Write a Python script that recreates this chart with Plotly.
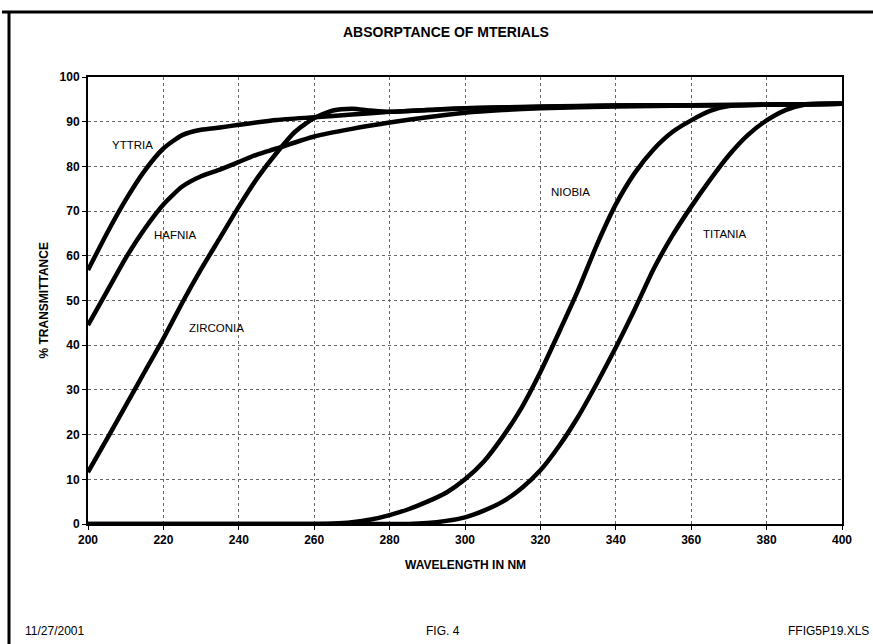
import plotly.graph_objects as go

# ---- data ----
yttria_x = [200, 205, 210, 215, 220, 225, 230, 235, 240, 250, 260, 270, 280, 290, 300, 320, 340, 360, 380, 400]
yttria_y = [56.8, 65, 72.5, 79, 84, 87.0, 88.2, 88.7, 89.3, 90.4, 91, 91.6, 92.2, 92.6, 93, 93.3, 93.6, 93.7, 93.8, 94]

hafnia_x = [200, 205, 210, 215, 220, 225, 230, 235, 240, 245, 250, 260, 270, 280, 290, 300, 310, 320, 340, 360, 380, 400]
hafnia_y = [44.5, 52, 59.5, 66, 71.5, 75.5, 77.8, 79.3, 81, 82.7, 84, 86.7, 88.4, 89.8, 91, 92, 92.6, 93, 93.4, 93.6, 93.8, 94]

zirconia_x = [200, 205, 210, 215, 220, 225, 230, 235, 240, 245, 250, 255, 260, 265, 270, 275, 280, 290, 300, 320, 340, 360, 380, 400]
zirconia_y = [11.6, 19, 26.5, 34, 41.5, 49.5, 57, 64, 71, 77.5, 83, 87.8, 90.8, 92.5, 92.9, 92.5, 92.2, 92.6, 93, 93.4, 93.6, 93.7, 93.8, 94]

niobia_x = [200, 260, 265, 270, 275, 280, 285, 290, 295, 300, 305, 310, 315, 320, 325, 330, 335, 340, 345, 350, 355, 360, 365, 370, 380, 400]
niobia_y = [0, 0, 0.1, 0.4, 1, 2, 3.3, 5, 7, 10, 14, 19.5, 26, 34, 43, 52.3, 62.5, 71.5, 78.5, 83.8, 87.7, 90.3, 92.4, 93.5, 93.8, 94]

titania_x = [200, 285, 290, 295, 300, 305, 310, 315, 320, 325, 330, 335, 340, 345, 350, 355, 360, 365, 370, 375, 380, 385, 390, 400]
titania_y = [0, 0, 0.2, 0.7, 1.5, 3, 5, 8, 12, 17.5, 24, 31.5, 39.5, 48, 57, 64.5, 71, 77, 82.5, 87, 90.3, 92.6, 93.8, 94]

label_names = ["YTTRIA", "HAFNIA", "ZIRCONIA", "NIOBIA", "TITANIA"]
label_x = [211.7, 223.1, 234.2, 328.1, 369.0]
label_y = [84.8, 64.7, 43.8, 74.3, 64.9]

x_ticks = [200, 220, 240, 260, 280, 300, 320, 340, 360, 380, 400]
y_ticks = [0, 10, 20, 30, 40, 50, 60, 70, 80, 90, 100]

title_text = "ABSORPTANCE OF MTERIALS"
x_title = "WAVELENGTH IN NM"
y_title = "% TRANSMITTANCE"
footer_left = "11/27/2001"
footer_mid = "FIG. 4"
footer_right = "FFIG5P19.XLS"

FONT = "Liberation Sans, Arial, sans-serif"

fig = go.Figure()
for name, xs, ys in [("YTTRIA", yttria_x, yttria_y), ("HAFNIA", hafnia_x, hafnia_y),
                     ("ZIRCONIA", zirconia_x, zirconia_y), ("NIOBIA", niobia_x, niobia_y),
                     ("TITANIA", titania_x, titania_y)]:
    fig.add_trace(go.Scatter(x=xs, y=ys, mode="lines", name=name,
                             line=dict(color="black", width=4.5, shape="spline", smoothing=0.6),
                             showlegend=False))

for n, lx, ly in zip(label_names, label_x, label_y):
    fig.add_annotation(x=lx, y=ly, xref="x", yref="y", text=n, showarrow=False,
                       font=dict(family=FONT, size=11.5, color="black"))

axis_common = dict(showline=True, linecolor="black", linewidth=2, mirror=True,
                   showgrid=True, gridcolor="#666", griddash="dot", gridwidth=1,
                   ticks="outside", ticklen=4, tickcolor="black", zeroline=False,
                   tickfont=dict(family=FONT, size=12, color="black", weight="bold"))

fig.update_xaxes(range=[200, 400], tickvals=x_ticks, ticktext=[str(v) for v in x_ticks], **axis_common)
fig.update_yaxes(range=[0, 100], tickvals=y_ticks, ticktext=[str(v) for v in y_ticks], **axis_common)

def px(p):
    return (p - 88) / 754.0

def py(p):
    return (524 - p) / 447.0

ann = [
    dict(x=px(446), y=py(32), text=title_text, size=14, bold=True, xanchor="center", angle=0),
    dict(x=0.5, y=py(565), text=x_title, size=12, bold=True, xanchor="center", angle=0),
    dict(x=px(43), y=0.5, text=y_title, size=12, bold=True, xanchor="center", angle=-90),
    dict(x=px(23), y=py(631), text=footer_left, size=12, bold=False, xanchor="left", angle=0),
    dict(x=px(443), y=py(631), text=footer_mid, size=12, bold=False, xanchor="center", angle=0),
    dict(x=px(871), y=py(631), text=footer_right, size=12, bold=False, xanchor="right", angle=0),
]
for a in ann:
    fig.add_annotation(x=a["x"], y=a["y"], xref="paper", yref="paper", text=a["text"],
                       showarrow=False, xanchor=a["xanchor"], yanchor="middle", textangle=a["angle"],
                       font=dict(family=FONT, size=a["size"], color="black",
                                 weight="bold" if a["bold"] else "normal"))

# outer frame (open on right and bottom, as in the scan)
fig.add_shape(type="line", xref="paper", yref="paper", x0=px(9), x1=px(9), y0=py(12), y1=py(650),
              line=dict(color="black", width=3))
fig.add_shape(type="line", xref="paper", yref="paper", x0=px(2), x1=px(880), y0=py(12), y1=py(12),
              line=dict(color="black", width=3))

fig.update_layout(width=873, height=644, autosize=False,
                  margin=dict(l=88, r=31, t=77, b=120),
                  paper_bgcolor="white", plot_bgcolor="white",
                  font=dict(family=FONT, color="black"))

fig.write_html("out.html", config={"displayModeBar": False},
               post_script="document.body.style.margin='0';document.body.style.overflow='hidden';")
